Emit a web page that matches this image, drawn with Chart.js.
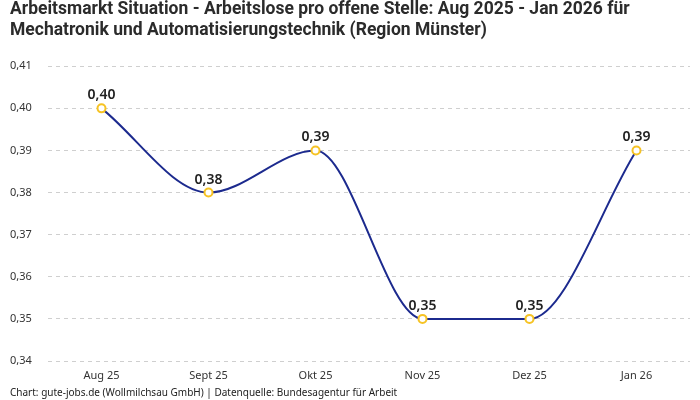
<!DOCTYPE html>
<html>
<head>
<meta charset="utf-8">
<script src="https://cdn.jsdelivr.net/npm/chart.js@4"></script>
<style>
	html, body { margin: 0; padding: 0; background: #fff; }
	#wrap { width: 700px; height: 400px; }
</style>
</head>
<body>
<div id="wrap"><canvas id="chartMarket" width="700" height="400"></canvas></div>
<script>
'use strict'

const months = ['Aug 25', 'Sept 25', 'Okt 25', 'Nov 25', 'Dez 25', 'Jan 26'];
const ratio = [0.40, 0.38, 0.39, 0.35, 0.35, 0.39];
const yTicks = [0.34, 0.35, 0.36, 0.37, 0.38, 0.39, 0.40, 0.41];

const colors = {
	line: '#1c2a8e',
	point: '#f6c324',
	text: '#222',
	grid: '#cfcfcf',
};

const fmt = v => v.toFixed(2).replace('.', ',');

// labels above every point
const valueLabels = {
	id: 'valueLabels',
	afterDatasetsDraw(chart) {
		const { ctx } = chart;
		ctx.save();
		chart.getDatasetMeta(0).data.forEach((pt, i) => {
			ctx.textAlign = 'center';
			ctx.textBaseline = 'bottom';
			ctx.font = '600 14px "Noto Sans"';
			ctx.fillStyle = colors.text;
			ctx.fillText(fmt(ratio[i]), pt.x, pt.y - 6);
		});
		ctx.restore();
	},
};

new Chart(document.getElementById('chartMarket'), {
	type: 'line',
	data: {
		labels: months,
		datasets: [{
			data: ratio,
			borderColor: colors.line,
			borderWidth: 2,
			cubicInterpolationMode: 'monotone',
			pointRadius: 4,
			pointBorderWidth: 2,
			pointBackgroundColor: '#fff',
			pointBorderColor: colors.point,
			clip: false,
		}],
	},
	options: {
		responsive: false,
		animation: false,
		layout: {
			padding: { left: 10, right: 10, top: 0, bottom: 0 },
		},
		plugins: {
			legend: { display: false },
			tooltip: { enabled: false },
			title: {
				display: true,
				text: ['Arbeitsmarkt Situation - Arbeitslose pro offene Stelle: Aug 2025 - Jan 2026 für', 'Mechatronik und Automatisierungstechnik (Region Münster)'],
				align: 'start',
				color: '#2b2b2b',
				font: { family: 'Roboto', size: 17.5, weight: 'bold', lineHeight: 1.15 },
				padding: { top: 0, bottom: 26 },
			},
			subtitle: {
				display: true,
				position: 'bottom',
				text: 'Chart: gute-jobs.de (Wollmilchsau GmbH) | Datenquelle: Bundesagentur für Arbeit',
				align: 'start',
				color: '#222',
				font: { family: 'Noto Sans', size: 10 },
				padding: { top: 4, bottom: 1 },
			},
		},
		scales: {
			x: {
				offset: true,
				grid: { display: false },
				border: { display: false },
				ticks: { color: '#333', font: { family: 'Noto Sans', size: 11 }, padding: 0 },
				afterFit: axis => { axis.height = 22; },
			},
			y: {
				min: yTicks[0],
				max: yTicks[yTicks.length - 1],
				afterBuildTicks: axis => { axis.ticks = yTicks.map(v => ({ value: v })); },
				afterFit: axis => { axis.width = 38; },
				border: { display: false, dash: [4, 4] },
				grid: { color: colors.grid, tickLength: 0 },
				ticks: {
					color: '#333',
					font: { family: 'Noto Sans', size: 11 },
					padding: 15,
					crossAlign: 'far',
					callback: v => fmt(v),
				},
			},
		},
	},
	plugins: [valueLabels],
});
</script>
</body>
</html>
